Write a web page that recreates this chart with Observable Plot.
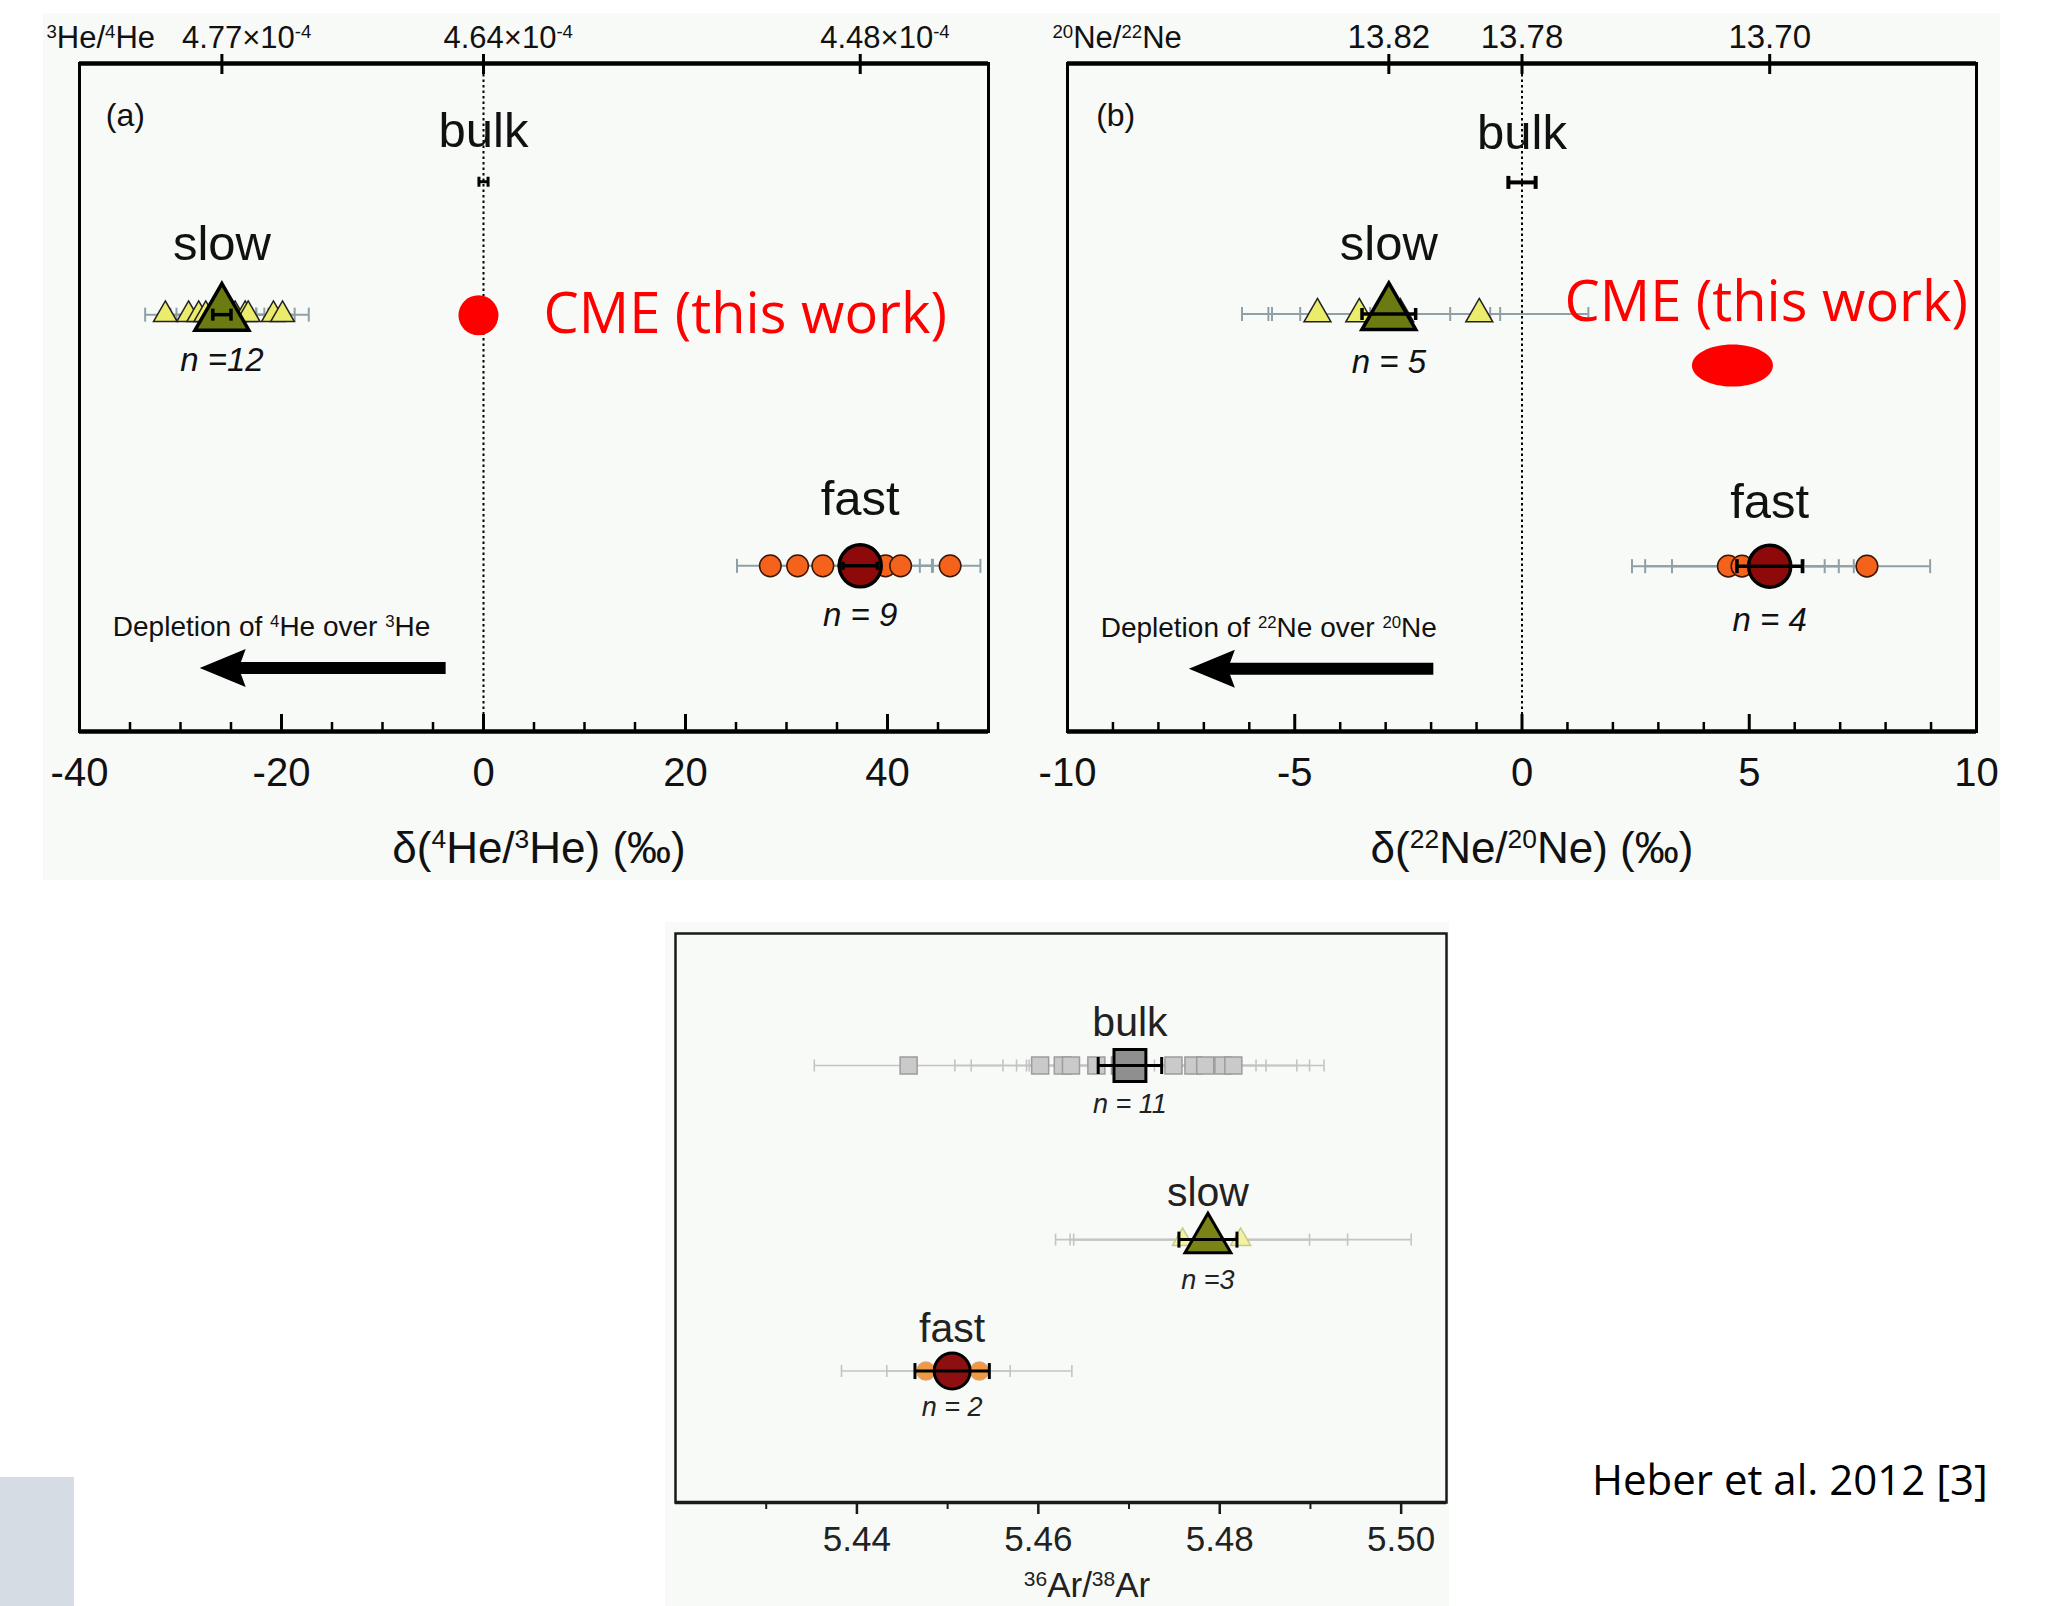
<!DOCTYPE html>
<html><head><meta charset="utf-8">
<script src="https://cdn.jsdelivr.net/npm/d3@7"></script>
<script src="https://cdn.jsdelivr.net/npm/@observablehq/plot@0.6"></script>
<style>
body{margin:0;background:#fff;}
#page{position:relative;width:2066px;height:1606px;overflow:hidden;background:#fff;}
.abs{position:absolute;}
</style></head>
<body><div id="page">
<div class="abs" style="left:43px;top:13px;width:1957px;height:867px;background:#f8faf7"></div>
<div class="abs" style="left:665px;top:922px;width:784px;height:684px;background:#f8faf7"></div>
<div id="pa" class="abs" style="left:0;top:0;width:1010px;height:880px"></div>
<div id="pb" class="abs" style="left:1020px;top:0;width:990px;height:880px"></div>
<div id="pc" class="abs" style="left:665px;top:920px;width:800px;height:686px"></div>
<div id="cite" class="abs" style="left:1592px;top:1458px;font-family:'Open Sans','Noto Sans',sans-serif;font-size:42px;line-height:1;color:#000;white-space:nowrap"></div>
<div class="abs" style="left:0;top:1477px;width:74px;height:129px;background:#d6dce4"></div>
</div>
<script>
// ================= DATA =================
// Panel (a): δ(4He/3He) (‰)
const heSlow    = [-31.5, -29.2, -28.2, -27.5, -26.8, -26.2, -25.5, -24.6, -23.6, -23.3, -20.8, -19.9];
const heSlowErr = [2.0, 1.8, 2.2, 1.9, 2.0, 1.7, 1.8, 2.1, 1.9, 2.0, 2.1, 2.6];
const heFast    = [28.4, 31.1, 33.6, 36.2, 37.3, 38.4, 39.8, 41.3, 46.2];
const heFastErr = [3.3, 2.4, 2.0, 2.2, 1.9, 2.5, 4.6, 3.2, 3.0];
const heMean    = [0, -25.9, 37.3];          // bulk, slow, fast
const heMeanErr = [0.45, 0.9, 1.7];
const heN       = ["", "n =12", "n = 9"];
const heCME     = [-0.5];
const heArrow   = [{tip: -28.1, tail: -3.7}];
const heTopTicks  = [-25.9, 0, 37.3];
const heTopLabels = ["4.77×10^{-4}", "4.64×10^{-4}", "4.48×10^{-4}"];
const heLabelTicks = [-40, -20, 0, 20, 40];
const heMajorTicks = [-20, 0, 20, 40];
const heMinorTicks = [-35, -30, -25, -15, -10, -5, 5, 10, 15, 25, 30, 35, 45];

// Panel (b): δ(22Ne/20Ne) (‰)
const neSlow    = [-4.50, -3.58, -3.10, -2.68, -0.94];
const neSlowErr = [1.66, 2.0, 2.4, 2.2, 2.4];
const neFast    = [4.54, 4.84, 5.30, 7.59];
const neFastErr = [2.12, 2.13, 2.0, 1.39];
const neMean    = [0, -2.93, 5.45];
const neMeanErr = [0.3, 0.59, 0.72];
const neN       = ["", "n = 5", "n = 4"];
const neCME     = [4.63];
const neArrow   = [{tip: -7.33, tail: -1.94}];
const neTopTicks  = [-2.93, 0, 5.45];
const neTopLabels = ["13.82", "13.78", "13.70"];
const neLabelTicks = [-10, -5, 0, 5, 10];
const neMajorTicks = [-5, 0, 5];
const neMinorTicks = [-9, -8, -7, -6, -4, -3, -2, -1, 1, 2, 3, 4, 6, 7, 8, 9];

// Panel (c): 36Ar/38Ar
const arBulk    = [5.4457, 5.4602, 5.4627, 5.4636, 5.4664, 5.4690, 5.4749, 5.4771, 5.4784, 5.4804, 5.4815];
const arBulkErr = [0.0104, 0.0094, 0.0101, 0.0060, 0.0077, 0.0100, 0.0091, 0.0080, 0.0115, 0.0111, 0.0070];
const arSlow    = [5.4759, 5.4790, 5.4823];
const arSlowErr = [0.0140, 0.0151, 0.0188];
const arFast    = [5.4476, 5.4535];
const arFastErr = [0.0093, 0.0102];
const arMean    = [5.4701, 5.4787, 5.4505];   // bulk, slow, fast
const arMeanErr = [0.0035, 0.0032, 0.0041];
const arN       = ["n = 11", "n =3", "n = 2"];
const arLabelTicks = [5.44, 5.46, 5.48, 5.50];
const arMinorTicks = [5.43, 5.45, 5.47, 5.49];

const groupNames = ["bulk", "slow", "fast"];
const cmeText = "CME (this work)";
const citeText = "Heber et al. 2012 [3]";

// ================= STYLE / LAYOUT =================
const FONT = '"Liberation Sans", Arial, Helvetica, sans-serif';
const CAL = '"Open Sans", "Noto Sans", sans-serif';
const LA = {tag: 0.078, bulkText: 0.102, bulk: 0.177, slowText: 0.27, slow: 0.376, slowN: 0.445, cme: 0.377, cmeText: 0.377, fastText: 0.653, fast: 0.752, fastN: 0.826, depText: 0.843, arrow: 0.905};
const LB = {tag: 0.078, bulkText: 0.105, bulk: 0.178, slowText: 0.271, slow: 0.375, slowN: 0.448, cme: 0.452, cmeText: 0.359, fastText: 0.657, fast: 0.7525, fastN: 0.834, depText: 0.845, arrow: 0.906};
const LC = {bulkText: 0.157, bulk: 0.232, bulkN: 0.30, slowText: 0.455, slow: 0.538, slowN: 0.61, fastText: 0.694, fast: 0.769, fastN: 0.8325};

// custom symbols
const vbar = {draw(c, s) { const h = Math.sqrt(s / Math.PI); c.moveTo(0, -h); c.lineTo(0, h); }};
const arrowHead = {draw(c, s) { const k = Math.sqrt(s / Math.PI) / 10;
  c.moveTo(0, 0); c.lineTo(46 * k, -19 * k); c.lineTo(39 * k, 0); c.lineTo(46 * k, 19 * k); c.closePath(); }};
const ellipse = {draw(c, s) { const rx = Math.sqrt(s / Math.PI), ry = rx * 0.52, kx = rx * 0.5523, ky = ry * 0.5523;
  c.moveTo(rx, 0);
  c.bezierCurveTo(rx, ky, kx, ry, 0, ry);
  c.bezierCurveTo(-kx, ry, -rx, ky, -rx, 0);
  c.bezierCurveTo(-rx, -ky, -kx, -ry, 0, -ry);
  c.bezierCurveTo(kx, -ry, rx, -ky, rx, 0);
  c.closePath(); }};

function scatter(vals, errs, row, st) {
  const pts = vals.map((v, i) => ({v, lo: v - errs[i], hi: v + errs[i]}));
  const ww = st.ww ?? 2;
  return [
    Plot.ruleY(pts, {y: () => row, x1: "lo", x2: "hi", stroke: st.wc, strokeWidth: ww}),
    Plot.dot(pts, {x: "lo", y: () => row, symbol: vbar, r: st.capR, stroke: st.wc, strokeWidth: ww, fill: "none"}),
    Plot.dot(pts, {x: "hi", y: () => row, symbol: vbar, r: st.capR, stroke: st.wc, strokeWidth: ww, fill: "none"}),
    Plot.dot(pts, {x: "v", y: () => row, symbol: st.symbol, r: st.r, fill: st.fill, stroke: st.stroke, strokeWidth: st.sw ?? 1.5})
  ];
}
function meanMark(v, e, row, st) {
  const d = [{v, lo: v - e, hi: v + e}];
  return [
    st.symbol ? Plot.dot(d, {x: "v", y: () => row, symbol: st.symbol, r: st.r, fill: st.fill, stroke: "#000", strokeWidth: st.sw ?? 3}) : null,
    Plot.ruleY(d, {y: () => row, x1: "lo", x2: "hi", stroke: "#000", strokeWidth: st.ew}),
    Plot.dot(d, {x: "lo", y: () => row, symbol: vbar, r: st.capR, stroke: "#000", strokeWidth: st.ew, fill: "none"}),
    Plot.dot(d, {x: "hi", y: () => row, symbol: vbar, r: st.capR, stroke: "#000", strokeWidth: st.ew, fill: "none"})
  ];
}

function supify(root) {
  root.querySelectorAll("text").forEach(t => {
    const s = t.textContent;
    if (!s.includes("^{")) return;
    while (t.firstChild) t.removeChild(t.firstChild);
    const re = /\^\{([^}]*)\}/g; let last = 0, m;
    const add = (str, sup) => {
      const ts = document.createElementNS("http://www.w3.org/2000/svg", "tspan");
      ts.textContent = str;
      if (sup) { ts.setAttribute("baseline-shift", "super"); ts.setAttribute("font-size", "60%"); }
      t.appendChild(ts);
    };
    while ((m = re.exec(s))) { if (m.index > last) add(s.slice(last, m.index), false); add(m[1], true); last = re.lastIndex; }
    if (last < s.length) add(s.slice(last), false);
  });
}

function buildTop(o) {
  const H = 880, mt = 63, mb = 149, fh = H - mt - mb;
  const px = v => v / fh;
  const L = o.L;
  const marks = [
    Plot.ruleX([0], {y1: 0, y2: 1, stroke: "#000", strokeWidth: 2, strokeDasharray: "2.5,3"}),
    Plot.frame({stroke: "#000", strokeWidth: 3}),
    Plot.ruleY([0, 1], {stroke: "#000", strokeWidth: 4.5}),
    Plot.ruleX(o.minor, {y1: 1, y2: 1 - px(9), stroke: "#000", strokeWidth: 2.5}),
    Plot.ruleX(o.major, {y1: 1, y2: 1 - px(17), stroke: "#000", strokeWidth: 3}),
    Plot.ruleX(o.topTicks, {y1: -px(9), y2: px(11), stroke: "#000", strokeWidth: 3}),
    Plot.text(o.topTicks, {x: d => d, y: () => -px(16), text: (d, i) => o.topLabels[i], lineAnchor: "bottom",
      textAnchor: o.topAnchor, dx: o.topDx, fontSize: o.topFont, fill: "#111"}),
    Plot.text([o.topTitle], {frameAnchor: "top-left", dx: o.topTitleDx, dy: -16, textAnchor: "start", lineAnchor: "bottom", fontSize: 31, fill: "#111"}),
    Plot.axisX(o.labels, {tickSize: 0, tickPadding: 26, fontSize: 40, tickFormat: d => String(d), label: null, fill: "#111"}),
    Plot.text([o.xTitle], {frameAnchor: "bottom", dy: 131, dx: o.xTitleDx, fontSize: 44, fill: "#111"}),
    Plot.text([o.tag], {x: () => o.tagX, y: () => L.tag, textAnchor: "start", fontSize: 32, fill: "#111"}),
    // group labels
    Plot.text([groupNames[0]], {x: () => o.mean[0], y: () => L.bulkText, fontSize: 49, fill: "#111"}),
    Plot.text([groupNames[1]], {x: () => o.mean[1], y: () => L.slowText, fontSize: 49, fill: "#111"}),
    Plot.text([groupNames[2]], {x: () => o.mean[2], y: () => L.fastText, fontSize: 49, fill: "#111"}),
    Plot.text([o.n[1]], {x: () => o.mean[1], y: () => L.slowN, fontSize: 33, fontStyle: "italic", fill: "#111"}),
    Plot.text([o.n[2]], {x: () => o.mean[2], y: () => L.fastN, fontSize: 33, fontStyle: "italic", fill: "#111"}),
    // bulk
    ...meanMark(o.mean[0], o.meanErr[0], L.bulk, {symbol: null, ew: o.bulkEw, capR: o.bulkCap}),
    // slow
    ...scatter(o.slow, o.slowErr, L.slow, {wc: "#8fa0a6", capR: 7, symbol: "triangle", r: o.slowR, fill: "#ecec6c", stroke: "#222"}),
    ...meanMark(o.mean[1], o.meanErr[1], L.slow, {symbol: "triangle", r: 20, fill: "#6b7b12", sw: 3.5, ew: 3.5, capR: 6}),
    // fast
    ...scatter(o.fast, o.fastErr, L.fast, {wc: "#8fa0a6", capR: 7, symbol: "circle", r: 10.8, fill: "#f4621c", stroke: "#3a1606"}),
    ...meanMark(o.mean[2], o.meanErr[2], L.fast, {symbol: "circle", r: 21, fill: "#8e0a0a", sw: 3.5, ew: 3.5, capR: o.fastCap}),
    // arrow
    Plot.text([o.depText], {x: () => o.depX, y: () => L.depText, textAnchor: "start", fontSize: 28, fill: "#111"}),
    Plot.ruleY(o.arrow, {y: () => L.arrow, x1: "tip", x2: "tail", insetLeft: 32, stroke: "#000", strokeWidth: 12}),
    Plot.dot(o.arrow, {x: "tip", y: () => L.arrow, symbol: arrowHead, r: 10, fill: "#000", stroke: "none"}),
    // CME
    Plot.dot(o.cme, {x: d => d, y: () => L.cme, symbol: o.cmeSymbol, r: o.cmeR, fill: "#ff0000", stroke: "none"}),
    Plot.text([cmeText], {x: () => o.cmeTextX, y: () => L.cmeText, textAnchor: "start", fontSize: 56, fontFamily: CAL, fill: "#ff0000"})
  ];
  const svg = Plot.plot({
    width: o.width, height: H, marginLeft: o.ml, marginRight: o.mr, marginTop: mt, marginBottom: mb,
    style: {background: "transparent", fontFamily: FONT, overflow: "visible", maxWidth: "none"},
    x: {domain: o.domain},
    y: {domain: [0, 1], range: [mt, H - mb], axis: null},
    marks
  });
  supify(svg);
  return svg;
}

const svgA = buildTop({
  width: 1010, ml: 79, mr: 22, domain: [-40, 50], L: LA,
  slow: heSlow, slowErr: heSlowErr, fast: heFast, fastErr: heFastErr, mean: heMean, meanErr: heMeanErr, n: heN,
  cme: heCME, cmeSymbol: "circle", cmeR: 20, cmeTextX: 5.94, arrow: heArrow,
  topTicks: heTopTicks, topLabels: heTopLabels, topAnchor: "start", topDx: -40, topFont: 31,
  topTitle: "^{3}He/^{4}He", topTitleDx: -33,
  labels: heLabelTicks, major: heMajorTicks, minor: heMinorTicks,
  xTitle: "δ(^{4}He/^{3}He) (‰)", xTitleDx: 5, tag: "(a)", tagX: -37.4,
  depText: "Depletion of ^{4}He over ^{3}He", depX: -36.7,
  slowR: 8.8, bulkEw: 3, bulkCap: 5, fastCap: 4
});
document.getElementById("pa").appendChild(svgA);

const svgB = buildTop({
  width: 990, ml: 47, mr: 34, domain: [-10, 10], L: LB,
  slow: neSlow, slowErr: neSlowErr, fast: neFast, fastErr: neFastErr, mean: neMean, meanErr: neMeanErr, n: neN,
  cme: neCME, cmeSymbol: ellipse, cmeR: 40.5, cmeTextX: 0.935, arrow: neArrow,
  topTicks: neTopTicks, topLabels: neTopLabels, topAnchor: "middle", topDx: 0, topFont: 33,
  topTitle: "^{20}Ne/^{22}Ne", topTitleDx: -15,
  labels: neLabelTicks, major: neMajorTicks, minor: neMinorTicks,
  xTitle: "δ(^{22}Ne/^{20}Ne) (‰)", xTitleDx: 10, tag: "(b)", tagX: -9.37,
  depText: "Depletion of ^{22}Ne over ^{20}Ne", depX: -9.27,
  slowR: 10, bulkEw: 4, bulkCap: 6.5, fastCap: 7
});
document.getElementById("pb").appendChild(svgB);

// Panel (c)
(function () {
  const H = 686, mt = 13, mb = 104, fh = H - mt - mb;
  const px = v => v / fh;
  const L = LC, tc = "#222";
  const svg = Plot.plot({
    width: 800, height: H, marginLeft: 10, marginRight: 19, marginTop: mt, marginBottom: mb,
    style: {background: "transparent", fontFamily: FONT, overflow: "visible", maxWidth: "none"},
    x: {domain: [5.42, 5.505]},
    y: {domain: [0, 1], range: [mt, H - mb], axis: null},
    marks: [
      Plot.frame({stroke: "#1a1a1a", strokeWidth: 2.5}),
      Plot.ruleY([1], {stroke: "#1a1a1a", strokeWidth: 3.5}),
      Plot.ruleX(arMinorTicks, {y1: 1, y2: 1 + px(7), stroke: "#1a1a1a", strokeWidth: 2}),
      Plot.ruleX(arLabelTicks, {y1: 1, y2: 1 + px(12), stroke: "#1a1a1a", strokeWidth: 2.5}),
      Plot.axisX(arLabelTicks, {tickSize: 0, tickPadding: 24, fontSize: 35, tickFormat: d3.format(".2f"), label: null, fill: tc}),
      Plot.text(["^{36}Ar/^{38}Ar"], {frameAnchor: "bottom", dy: 94, dx: 26, lineAnchor: "bottom", fontSize: 35, fill: tc}),
      // labels
      Plot.text([groupNames[0]], {x: () => arMean[0], y: () => L.bulkText, fontSize: 41, fill: tc}),
      Plot.text([groupNames[1]], {x: () => arMean[1], y: () => L.slowText, fontSize: 41, fill: tc}),
      Plot.text([groupNames[2]], {x: () => arMean[2], y: () => L.fastText, fontSize: 41, fill: tc}),
      Plot.text([arN[0]], {x: () => arMean[0], y: () => L.bulkN, fontSize: 27, fontStyle: "italic", fill: tc}),
      Plot.text([arN[1]], {x: () => arMean[1], y: () => L.slowN, fontSize: 27, fontStyle: "italic", fill: tc}),
      Plot.text([arN[2]], {x: () => arMean[2], y: () => L.fastN, fontSize: 27, fontStyle: "italic", fill: tc}),
      // bulk
      ...scatter(arBulk, arBulkErr, L.bulk, {wc: "#c4c4c4", ww: 1.6, capR: 6, symbol: "square", r: 9.6, fill: "#cacaca", stroke: "#9c9c9c"}),
      ...meanMark(arMean[0], arMeanErr[0], L.bulk, {symbol: "square", r: 18, fill: "#8f8f8f", sw: 3, ew: 3, capR: 8.5}),
      // slow
      ...scatter(arSlow, arSlowErr, L.slow, {wc: "#c4c4c4", ww: 1.6, capR: 6, symbol: "triangle", r: 7.5, fill: "#f2f2a2", stroke: "#c9c98a"}),
      ...meanMark(arMean[1], arMeanErr[1], L.slow, {symbol: "triangle", r: 17, fill: "#7a8416", sw: 3, ew: 3, capR: 8}),
      // fast
      ...scatter(arFast, arFastErr, L.fast, {wc: "#c4c4c4", ww: 1.6, capR: 6, symbol: "circle", r: 9, fill: "#ef9a42", stroke: "#e0a070"}),
      ...meanMark(arMean[2], arMeanErr[2], L.fast, {symbol: "circle", r: 18, fill: "#8d0f0f", sw: 3, ew: 3, capR: 8})
    ]
  });
  supify(svg);
  document.getElementById("pc").appendChild(svg);
})();

document.getElementById("cite").textContent = citeText;
</script>
</body></html>
